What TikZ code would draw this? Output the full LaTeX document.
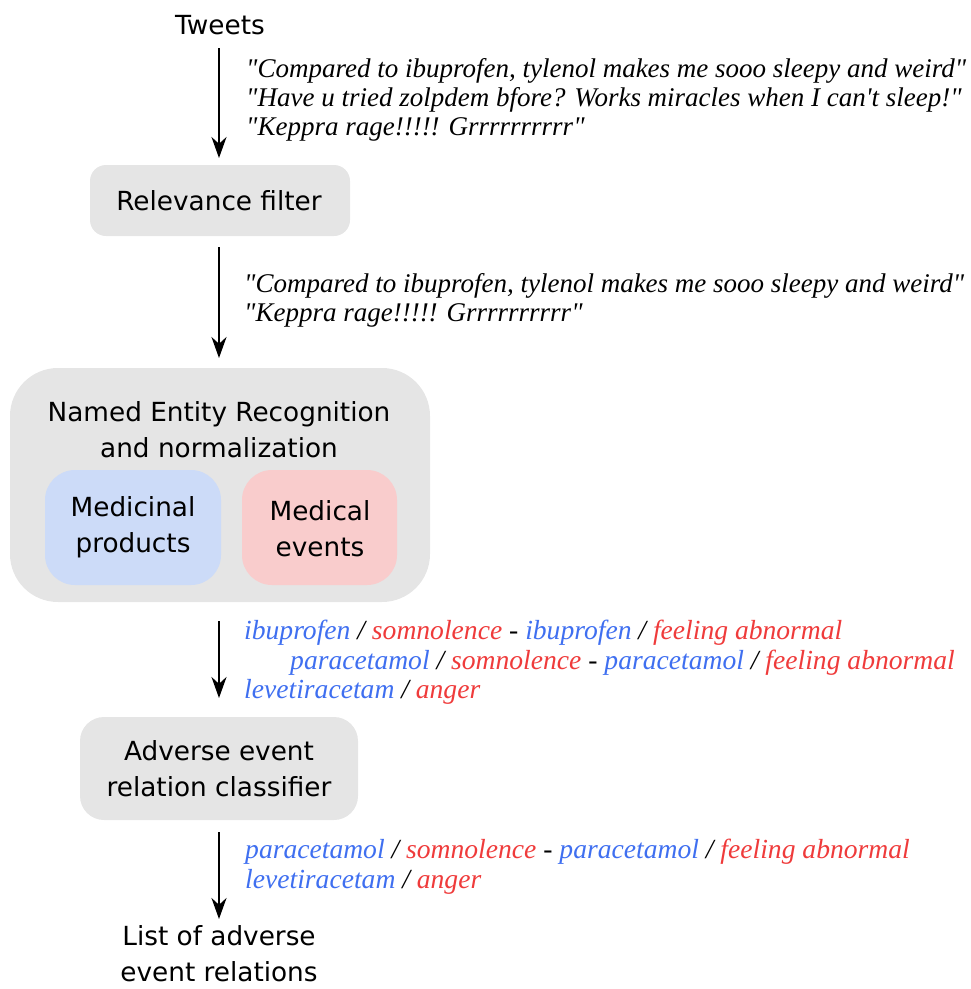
\documentclass[tikz,border=0pt]{standalone}
\usepackage{fontspec}
\setmainfont{DejaVu Sans}
\newfontfamily\twf{Liberation Serif}
\usetikzlibrary{arrows.meta}
\definecolor{boxgray}{HTML}{E5E5E5}
\definecolor{boxblue}{HTML}{CCDBF8}
\definecolor{boxpink}{HTML}{F9CCCC}
\definecolor{drugblue}{HTML}{3F6FF0}
\definecolor{eventred}{HTML}{EF3B3B}
\newcommand{\drug}[1]{\textcolor{drugblue}{#1}}
\newcommand{\evt}[1]{\textcolor{eventred}{#1}}
\tikzset{
  sanstxt/.style={font=\fontsize{26.3}{36}\selectfont, align=center, inner sep=0pt},
  itxt/.style={font=\fontsize{27}{29}\selectfont\twf\itshape, inner sep=0pt, anchor=base west},
  etxt/.style={itxt, font=\fontsize{27.6}{29}\selectfont\twf\itshape},
  flowarrow/.style={line width=2.6pt, -{Stealth[length=21pt,width=15pt]}},
}
\begin{document}
\begin{tikzpicture}[x=1pt,y=-1pt]
\useasboundingbox (0,0) rectangle (971,989);
% boxes
\fill[boxgray, rounded corners=16pt] (90,165) rectangle (350,236);
\fill[boxgray, rounded corners=48pt] (10,368) rectangle (430,602);
\fill[boxblue, rounded corners=30pt] (45,470) rectangle (221,585);
\fill[boxpink, rounded corners=30pt] (242,470) rectangle (397,585);
\fill[boxgray, rounded corners=24pt] (80,717) rectangle (358,820);
% texts
\node[sanstxt] (tweets) at (220,25) {Tweets};
\node[sanstxt] (filter) at (219,201) {Relevance filter};
\node[sanstxt] (ner) at (219,430) {Named Entity Recognition\\and normalization};
\node[sanstxt] (prod) at (133,527) {Medicinal\\products};
\node[sanstxt] (evts) at (320,529) {Medical\\events};
\node[sanstxt] (clf) at (219,769) {Adverse event\\relation classifier};
\node[sanstxt] (list) at (219,954) {List of adverse\\event relations};
% arrow coordinates
\coordinate (a1s) at (219,48);  \coordinate (a1e) at (219,158);
\coordinate (a2s) at (219,247); \coordinate (a2e) at (219,358);
\coordinate (a3s) at (219,621); \coordinate (a3e) at (219,698);
\coordinate (a4s) at (219,832); \coordinate (a4e) at (219,919);
\draw[flowarrow] (a1s) -- (a1e);
\draw[flowarrow] (a2s) -- (a2e);
\draw[flowarrow] (a3s) -- (a3e);
\draw[flowarrow] (a4s) -- (a4e);
% tweet texts
\node[itxt] (t1) at (246,77) {"Compared to ibuprofen, tylenol makes me sooo sleepy and weird"};
\node[itxt] (t2) at (246,106) {"Have u tried zolpdem bfore? Works miracles when I can't sleep!"};
\node[itxt] (t3) at (246,135) {"Keppra rage!!!!! Grrrrrrrrrr"};
\node[itxt] (f1) at (244,292) {"Compared to ibuprofen, tylenol makes me sooo sleepy and weird"};
\node[itxt] (f2) at (244,321) {"Keppra rage!!!!! Grrrrrrrrrr"};
% entity texts
\node[etxt] (e1) at (244,639) {\drug{ibuprofen} / \evt{somnolence} - \drug{ibuprofen} / \evt{feeling abnormal}};
\node[etxt] (e2) at (290,669) {\drug{paracetamol} / \evt{somnolence} - \drug{paracetamol} / \evt{feeling abnormal}};
\node[etxt] (e3) at (244,698) {\drug{levetiracetam} / \evt{anger}};
\node[etxt] (r1) at (245,858) {\drug{paracetamol} / \evt{somnolence} - \drug{paracetamol} / \evt{feeling abnormal}};
\node[etxt] (r2) at (245,888) {\drug{levetiracetam} / \evt{anger}};
\end{tikzpicture}
\end{document}
